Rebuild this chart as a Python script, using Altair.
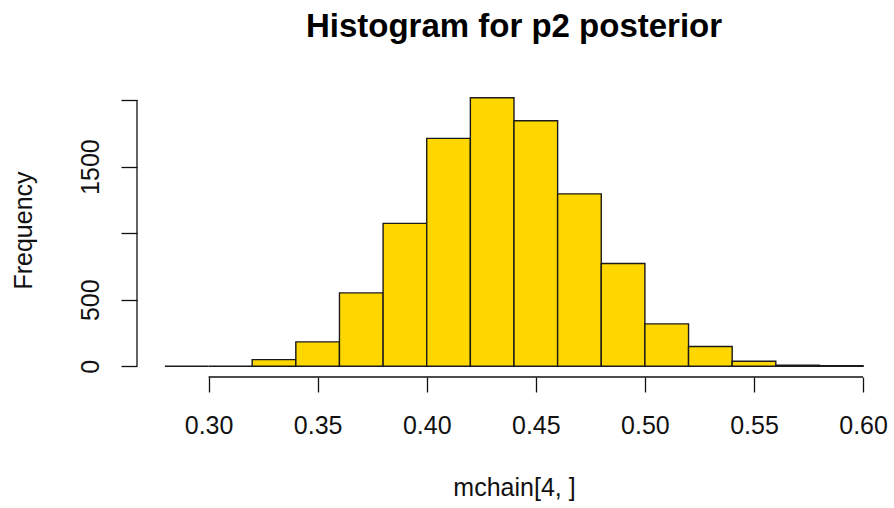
import altair as alt
import pandas as pd

# Histogram bins (R hist, breaks of width 0.02) and counts
bin_left = [0.28, 0.30, 0.32, 0.34, 0.36, 0.38, 0.40, 0.42, 0.44, 0.46, 0.48, 0.50, 0.52, 0.54, 0.56, 0.58]
bin_right = [0.30, 0.32, 0.34, 0.36, 0.38, 0.40, 0.42, 0.44, 0.46, 0.48, 0.50, 0.52, 0.54, 0.56, 0.58, 0.60]
counts = [0, 0, 50, 183, 551, 1073, 1712, 2017, 1844, 1295, 772, 318, 148, 38, 8, 4]

x_ticks = [0.30, 0.35, 0.40, 0.45, 0.50, 0.55, 0.60]
y_ticks = [0, 500, 1000, 1500, 2000]
y_tick_labels = ["0", "500", "", "1500", ""]

# R-style 4% padded user ranges
x_domain = [0.2672, 0.6128]
y_domain = [-80.68, 2097.68]

df = pd.DataFrame({"lo": bin_left, "hi": bin_right, "count": counts, "base": [0] * len(counts)})

FONT = "Liberation Sans"
xscale = alt.Scale(domain=x_domain, nice=False, zero=False)
yscale = alt.Scale(domain=y_domain, nice=False, zero=False)

label_map = "{" + ",".join(f"'{v}':'{l}'" for v, l in zip(y_ticks, y_tick_labels)) + "}"

x_axis = alt.Axis(
    values=x_ticks, format=".2f", domain=False, grid=False,
    tickSize=15, tickColor="#111111", tickWidth=1.3,
    labelFont=FONT, labelFontSize=25, labelColor="#111111",
    labelPadding=21, labelBaseline="top", labelFlush=False, labelOverlap=False,
    title="mchain[4, ]", titleFont=FONT, titleFontSize=25, titleFontWeight="normal",
    titleColor="#111111", titleX=377, titleY=118, titleBaseline="alphabetic",
    titleAlign="center",
)
y_axis = alt.Axis(
    values=y_ticks, domain=False, grid=False,
    tickSize=16, tickColor="#111111", tickWidth=1.3,
    labelFont=FONT, labelFontSize=25, labelColor="#111111",
    labelAngle=270, labelAlign="center", labelBaseline="bottom",
    labelPadding=18, labelOverlap=False, labelFlush=False,
    labelExpr=f"{label_map}[datum.value + '']",
    title="Frequency", titleFont=FONT, titleFontSize=25, titleFontWeight="normal",
    titleColor="#111111", titleAngle=270, titleX=-106, titleY=143,
    titleBaseline="alphabetic", titleAlign="center",
)

bars = alt.Chart(df).mark_rect(fill="#FFD700", stroke="#1a1a1a", strokeWidth=1.4).encode(
    x=alt.X("lo:Q", scale=xscale, axis=x_axis),
    x2="hi:Q",
    y=alt.Y("count:Q", scale=yscale, axis=y_axis),
    y2="base:Q",
)

x_line = alt.Chart(pd.DataFrame({"lo": [x_ticks[0]], "hi": [x_ticks[-1]], "count": [y_domain[0]]})).mark_rule(
    color="#111111", strokeWidth=1.3
).encode(
    x=alt.X("lo:Q", scale=xscale, axis=x_axis),
    x2="hi:Q",
    y=alt.Y("count:Q", scale=yscale, axis=y_axis),
)

y_line = alt.Chart(pd.DataFrame({"lo": [x_domain[0]], "count": [y_ticks[0]], "base": [y_ticks[-1]]})).mark_rule(
    color="#111111", strokeWidth=1.3
).encode(
    x=alt.X("lo:Q", scale=xscale, axis=x_axis),
    y=alt.Y("count:Q", scale=yscale, axis=y_axis),
    y2="base:Q",
)

chart = alt.layer(bars, x_line, y_line).properties(
    width=754,
    height=290,
    padding={"left": 137, "top": 87, "right": 3, "bottom": 131},
    autosize=alt.AutoSizeParams(type="none"),
    background="white",
    title=alt.Title(
        "Histogram for p2 posterior", font=FONT, fontSize=33, fontWeight="bold",
        color="black", anchor="middle", frame="group", baseline="alphabetic", offset=17,
    ),
).configure_view(stroke=None)

chart.save("out.html", embed_options={"renderer": "svg", "actions": False})
